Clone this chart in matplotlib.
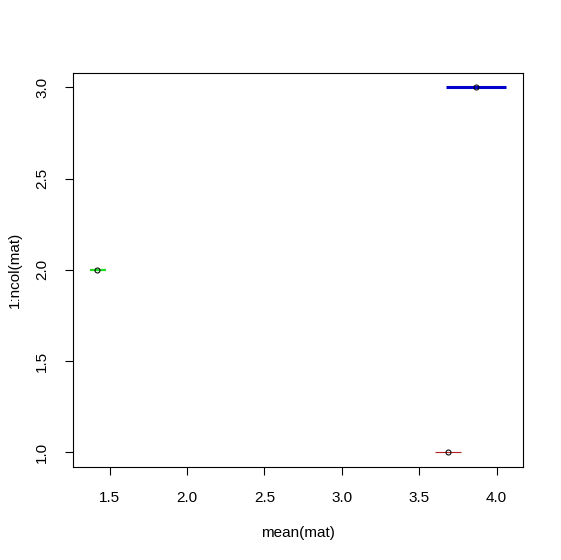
import matplotlib
matplotlib.use("Agg")
import matplotlib.pyplot as plt
import numpy as np

# values
idx = [1, 2, 3]
means = [3.683, 1.421, 3.868]
lows = [3.600, 1.371, 3.675]
highs = [3.768, 1.479, 4.062]
colors = ["#B22222", "#22DD22", "#0000CC"]
widths = [0.8, 1.6, 2.2]

xticks = [1.5, 2.0, 2.5, 3.0, 3.5, 4.0]
yticks = [1.0, 1.5, 2.0, 2.5, 3.0]

plt.rcParams["font.family"] = ["Liberation Sans", "DejaVu Sans"]

fig = plt.figure(figsize=(5.61, 5.60), dpi=100)
ax = fig.add_axes([0.130, 0.166, 0.802, 0.704])

for y, m, lo, hi, c, w in zip(idx, means, lows, highs, colors, widths):
    ax.plot([lo, hi], [y, y], color=c, lw=w, solid_capstyle="butt")
    ax.plot(m, y, marker="o", ms=3.6, mfc="none", mec="black", mew=0.75)

xr = max(highs) - min(lows)
ax.set_xlim(min(lows) - 0.04 * xr, max(highs) + 0.04 * xr)
ax.set_ylim(0.92, 3.08)

ax.set_xticks(xticks)
ax.set_xticklabels([f"{t:.1f}" for t in xticks], fontsize=11)
ax.set_yticks(yticks)
ax.set_yticklabels([f"{t:.1f}" for t in yticks], fontsize=11, rotation=90, va="center")
ax.tick_params(length=6, width=0.8, pad=11)

for s in ax.spines.values():
    s.set_linewidth(0.8)

ax.set_xlabel("mean(mat)", fontsize=11, va="center")
ax.xaxis.set_label_coords(0.5, -0.168)
ax.set_ylabel("1:ncol(mat)", fontsize=11, va="center")
ax.yaxis.set_label_coords(-0.129, 0.5)

fig.savefig("out.png", dpi=100)
